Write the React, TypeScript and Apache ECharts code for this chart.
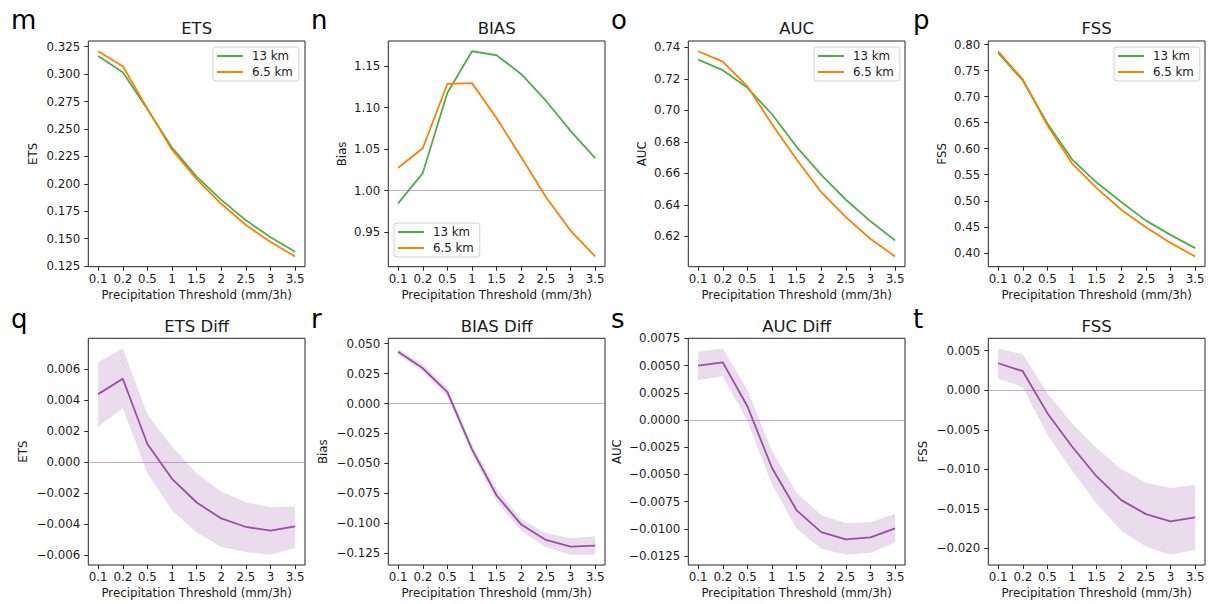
import React, { useEffect, useRef } from 'react';
import * as echarts from 'echarts';

const thresholds = ['0.1', '0.2', '0.5', '1', '1.5', '2', '2.5', '3', '3.5'];
const seriesNames = ['13 km', '6.5 km'];

const etsCoarse = [0.3165, 0.3017, 0.268, 0.2329, 0.2066, 0.1854, 0.1667, 0.1513, 0.138];
const etsFine = [0.3208, 0.3072, 0.2685, 0.2311, 0.2042, 0.1818, 0.1625, 0.147, 0.1338];
const biasCoarse = [0.9848, 1.0212, 1.118, 1.168, 1.1632, 1.1404, 1.1084, 1.072, 1.0392];
const biasFine = [1.0276, 1.0512, 1.1288, 1.1296, 1.0872, 1.0404, 0.9924, 0.952, 0.9208];
const aucCoarse = [0.7322, 0.7255, 0.7143, 0.6975, 0.6768, 0.659, 0.6432, 0.6295, 0.6173];
const aucFine = [0.7375, 0.7309, 0.7152, 0.6912, 0.6688, 0.648, 0.6322, 0.6183, 0.6072];
const fssCoarse = [0.7841, 0.7312, 0.6484, 0.5796, 0.535, 0.4975, 0.4618, 0.4344, 0.4089];
const fssFine = [0.7873, 0.7331, 0.6452, 0.572, 0.5242, 0.4828, 0.449, 0.419, 0.393];

const etsDiff = [0.0044, 0.00539, 0.00118, -0.00107, -0.0026, -0.00363, -0.00418, -0.00442, -0.00414];
const etsDiffHigh = [0.00648, 0.00734, 0.00309, 0.00101, -0.00071, -0.00189, -0.00258, -0.0029, -0.00285];
const etsDiffLow = [0.0023, 0.00348, -0.00071, -0.00311, -0.00453, -0.00547, -0.0058, -0.00597, -0.00554];

const biasDiff = [0.0433, 0.0294, 0.0095, -0.0383, -0.0769, -0.1012, -0.1141, -0.1197, -0.1188];
const biasDiffHigh = [0.0459, 0.0327, 0.0134, -0.0344, -0.0713, -0.0965, -0.1082, -0.1127, -0.111];
const biasDiffLow = [0.0408, 0.0266, 0.0059, -0.0425, -0.0819, -0.1063, -0.1202, -0.1264, -0.1264];

const aucDiff = [0.005, 0.0053, 0.00126, -0.00441, -0.0083, -0.0103, -0.01097, -0.01078, -0.00996];
const aucDiffHigh = [0.00628, 0.00656, 0.00279, -0.00285, -0.00668, -0.00876, -0.00947, -0.0094, -0.00861];
const aucDiffLow = [0.00365, 0.00401, -0.0001, -0.00594, -0.00999, -0.01183, -0.01238, -0.0122, -0.01127];

const fssDiff = [0.00341, 0.0024, -0.0029, -0.00711, -0.0109, -0.01389, -0.01566, -0.01658, -0.01608];
const fssDiffHigh = [0.00526, 0.00455, -0.00038, -0.00417, -0.00732, -0.00997, -0.01166, -0.01237, -0.01195];
const fssDiffLow = [0.00147, 0.00038, -0.00564, -0.01014, -0.01435, -0.01776, -0.01974, -0.02079, -0.02016];

const etsTicks = [0.125, 0.15, 0.175, 0.2, 0.225, 0.25, 0.275, 0.3, 0.325];
const biasTicks = [0.95, 1.0, 1.05, 1.1, 1.15];
const aucTicks = [0.62, 0.64, 0.66, 0.68, 0.7, 0.72, 0.74];
const fssTicks = [0.4, 0.45, 0.5, 0.55, 0.6, 0.65, 0.7, 0.75, 0.8];
const etsDiffTicks = [-0.006, -0.004, -0.002, 0, 0.002, 0.004, 0.006];
const biasDiffTicks = [-0.125, -0.1, -0.075, -0.05, -0.025, 0, 0.025, 0.05];
const aucDiffTicks = [-0.0125, -0.01, -0.0075, -0.005, -0.0025, 0, 0.0025, 0.005, 0.0075];
const fssDiffTicks = [-0.02, -0.015, -0.01, -0.005, 0, 0.005];

const FONT = 'DejaVu Sans';
const GREEN = '#4daf4a';
const ORANGE = '#ff7f00';
const PURPLE = '#984ea3';
const TEXT = '#1a1a1a';

type Panel = {
  letter: string;
  title: string;
  yName: string;
  row: number;
  col: number;
  lines: { name: string; data: number[]; color: string }[];
  band?: { low: number[]; high: number[] };
  ticks: number[];
  dec: number;
  refLine?: number;
  nameGap: number;
  legend?: { left: number; top: number };
};

const panels: Panel[] = [
  { letter: 'm', title: 'ETS', yName: 'ETS', row: 0, col: 0,
    lines: [{ name: seriesNames[0], data: etsCoarse, color: GREEN }, { name: seriesNames[1], data: etsFine, color: ORANGE }],
    ticks: etsTicks, dec: 3, nameGap: 49, legend: { left: 213, top: 47 } },
  { letter: 'n', title: 'BIAS', yName: 'Bias', row: 0, col: 1,
    lines: [{ name: seriesNames[0], data: biasCoarse, color: GREEN }, { name: seriesNames[1], data: biasFine, color: ORANGE }],
    ticks: biasTicks, dec: 2, refLine: 1.0, nameGap: 40, legend: { left: 394, top: 223 } },
  { letter: 'o', title: 'AUC', yName: 'AUC', row: 0, col: 2,
    lines: [{ name: seriesNames[0], data: aucCoarse, color: GREEN }, { name: seriesNames[1], data: aucFine, color: ORANGE }],
    ticks: aucTicks, dec: 2, nameGap: 40, legend: { left: 814, top: 47 } },
  { letter: 'p', title: 'FSS', yName: 'FSS', row: 0, col: 3,
    lines: [{ name: seriesNames[0], data: fssCoarse, color: GREEN }, { name: seriesNames[1], data: fssFine, color: ORANGE }],
    ticks: fssTicks, dec: 2, nameGap: 40, legend: { left: 1114, top: 47 } },
  { letter: 'q', title: 'ETS Diff', yName: 'ETS', row: 1, col: 0,
    lines: [{ name: 'ETS Diff', data: etsDiff, color: PURPLE }], band: { low: etsDiffLow, high: etsDiffHigh },
    ticks: etsDiffTicks, dec: 3, refLine: 0, nameGap: 59 },
  { letter: 'r', title: 'BIAS Diff', yName: 'Bias', row: 1, col: 1,
    lines: [{ name: 'BIAS Diff', data: biasDiff, color: PURPLE }], band: { low: biasDiffLow, high: biasDiffHigh },
    ticks: biasDiffTicks, dec: 3, refLine: 0, nameGap: 59 },
  { letter: 's', title: 'AUC Diff', yName: 'AUC', row: 1, col: 2,
    lines: [{ name: 'AUC Diff', data: aucDiff, color: PURPLE }], band: { low: aucDiffLow, high: aucDiffHigh },
    ticks: aucDiffTicks, dec: 4, refLine: 0, nameGap: 65 },
  { letter: 't', title: 'FSS', yName: 'FSS', row: 1, col: 3,
    lines: [{ name: 'FSS Diff', data: fssDiff, color: PURPLE }], band: { low: fssDiffLow, high: fssDiffHigh },
    ticks: fssDiffTicks, dec: 3, refLine: 0, nameGap: 59 },
];

const COL_LEFT = [88.3, 388.3, 688.3, 988.3];
const ROW_TOP = [41, 338.3];
const ROW_H = [225.7, 226.7];
const PLOT_W = 216.7;
const LETTER_X = [11, 311, 611, 913];
const LETTER_Y = [19.5, 318.5];
const TITLE_Y = [28, 326.5];

function fmt(v: number, dec: number) {
  const s = Math.abs(v).toFixed(dec);
  return (v < -1e-12 ? '\u2212' : '') + s;
}

function buildOption() {
  const grid: any[] = [];
  const xAxis: any[] = [];
  const yAxis: any[] = [];
  const series: any[] = [];
  const legend: any[] = [];
  const graphic: any[] = [];

  panels.forEach((p, i) => {
    const left = COL_LEFT[p.col];
    const top = ROW_TOP[p.row];
    const h = ROW_H[p.row];
    grid.push({ left, top, width: PLOT_W, height: h, show: true, borderColor: '#262626', borderWidth: 1, backgroundColor: 'transparent', containLabel: false });

    const all: number[] = [];
    p.lines.forEach((l) => all.push(...l.data));
    if (p.band) { all.push(...p.band.low, ...p.band.high); }
    const lo = Math.min(...all);
    const hi = Math.max(...all);
    const pad = (hi - lo) * 0.05;

    xAxis.push({
      type: 'value', gridIndex: i, min: -0.4, max: thresholds.length - 1 + 0.4, position: 'bottom',
      axisLine: { show: false, onZero: false },
      splitLine: { show: false },
      axisTick: { show: true, customValues: thresholds.map((_, j) => j), length: 4, lineStyle: { color: '#262626', width: 1 } },
      axisLabel: { show: true, customValues: thresholds.map((_, j) => j), formatter: (v: number) => thresholds[Math.round(v)] ?? '', fontFamily: FONT, fontSize: 11.8, color: TEXT, margin: 6 },
      name: 'Precipitation Threshold (mm/3h)', nameLocation: 'middle', nameGap: 22, nameMoveOverlap: false,
      nameTextStyle: { fontFamily: FONT, fontSize: 11.8, color: TEXT },
    });
    yAxis.push({
      type: 'value', gridIndex: i, min: lo - pad, max: hi + pad, scale: true, position: 'left',
      axisLine: { show: false, onZero: false },
      splitLine: { show: false },
      axisTick: { show: true, customValues: p.ticks, length: 4, lineStyle: { color: '#262626', width: 1 } },
      axisLabel: { show: true, customValues: p.ticks, formatter: (v: number) => fmt(v, p.dec), fontFamily: FONT, fontSize: 11.8, color: TEXT, margin: 8 },
      name: p.yName, nameLocation: 'middle', nameGap: p.nameGap, nameMoveOverlap: false,
      nameTextStyle: { fontFamily: FONT, fontSize: 11.8, color: TEXT },
    });

    if (p.band) {
      const low = p.band.low;
      const high = p.band.high;
      series.push({
        type: 'custom', xAxisIndex: i, yAxisIndex: i, silent: true, clip: true, z: 1,
        data: low.map((l, j) => [j, l, high[j]]),
        encode: { x: 0, y: [1, 2] },
        renderItem: (params: any, api: any) => {
          if (params.dataIndex !== 0) return null;
          const up = high.map((v, j) => api.coord([j, v]));
          const dn = low.map((v, j) => api.coord([j, v])).reverse();
          return { type: 'polygon', shape: { points: up.concat(dn) }, style: { fill: 'rgba(152,78,163,0.2)', stroke: 'none' } };
        },
      });
    }

    p.lines.forEach((l, k) => {
      const s: any = {
        type: 'line', name: l.name, xAxisIndex: i, yAxisIndex: i, z: 3,
        data: l.data.map((v, j) => [j, v]),
        showSymbol: false, symbol: 'none', silent: true,
        lineStyle: { width: 1.8, color: l.color }, itemStyle: { color: l.color },
        emphasis: { disabled: true },
      };
      if (k === 0 && p.refLine !== undefined) {
        s.markLine = {
          silent: true, symbol: ['none', 'none'], label: { show: false },
          lineStyle: { color: 'rgba(152,78,163,0.5)', width: 1, type: 'solid' },
          emphasis: { disabled: true },
          data: [{ yAxis: p.refLine }],
          z: 2,
        };
      }
      series.push(s);
    });

    if (p.legend) {
      legend.push({
        data: seriesNames, left: p.legend.left, top: p.legend.top, orient: 'vertical',
        icon: 'rect', itemWidth: 26, itemHeight: 2, itemGap: 4, padding: [3, 6, 3, 4],
        borderColor: '#d0d0d0', borderWidth: 1, borderRadius: 3, backgroundColor: 'rgba(255,255,255,0.8)',
        selectedMode: false,
        textStyle: { fontFamily: FONT, fontSize: 11.8, color: TEXT, padding: [0, 0, 0, 4] },
      });
    }

    graphic.push({
      type: 'text', x: left + PLOT_W / 2, y: TITLE_Y[p.row], silent: true,
      style: { text: p.title, font: `16.5px "${FONT}"`, fill: TEXT, align: 'center', verticalAlign: 'middle', textAlign: 'center', textVerticalAlign: 'middle' },
    });
    graphic.push({
      type: 'text', x: LETTER_X[p.col], y: LETTER_Y[p.row], silent: true,
      style: { text: p.letter, font: `26px "${FONT}"`, fill: '#000', align: 'left', verticalAlign: 'middle', textAlign: 'left', textVerticalAlign: 'middle' },
    });
  });

  return { animation: false, backgroundColor: '#fff', grid, xAxis, yAxis, series, legend, graphic };
}

export default function App() {
  const ref = useRef<HTMLDivElement>(null);
  useEffect(() => {
    if (!ref.current) return;
    const chart = echarts.init(ref.current, undefined, { renderer: 'svg' });
    chart.setOption(buildOption() as any);
    return () => chart.dispose();
  }, []);
  return <div ref={ref} style={{ position: 'absolute', left: 0, top: 0, width: 1213, height: 604 }} />;
}
